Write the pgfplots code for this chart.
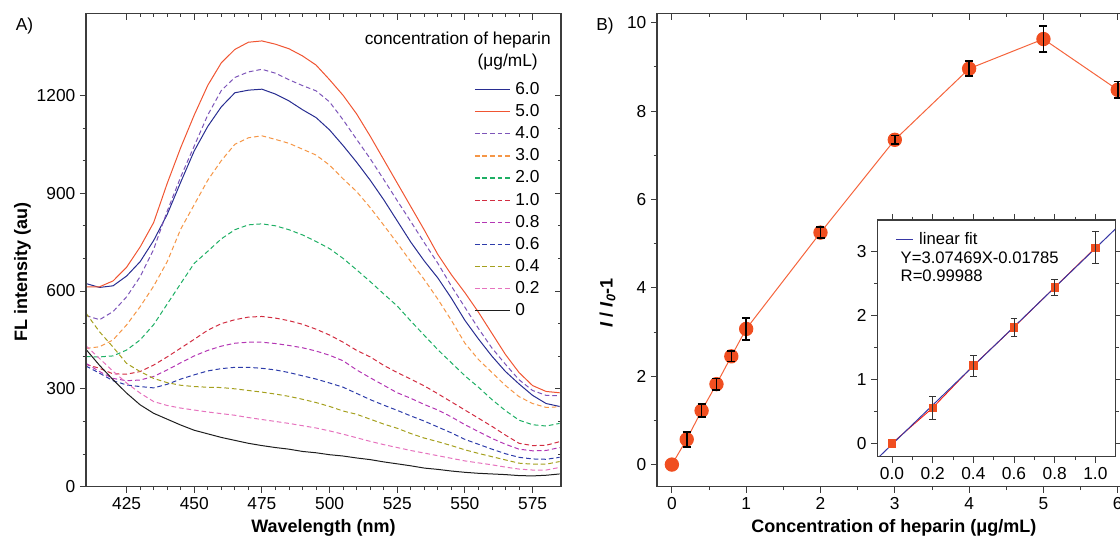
\documentclass[border=0pt]{standalone}
\usepackage{fontspec}
\setmainfont{Liberation Sans}
\usepackage{pgfplots}
\pgfplotsset{compat=1.18}
\usepackage{pgfplotstable}

\definecolor{c60}{RGB}{40,45,145}
\definecolor{c50}{RGB}{240,85,50}
\definecolor{c40}{RGB}{125,85,185}
\definecolor{c30}{RGB}{245,150,70}
\definecolor{c20}{RGB}{30,175,100}
\definecolor{c10}{RGB}{210,45,65}
\definecolor{c08}{RGB}{180,55,180}
\definecolor{c06}{RGB}{45,60,170}
\definecolor{c04}{RGB}{165,160,30}
\definecolor{c02}{RGB}{230,115,190}
\definecolor{c00}{RGB}{30,30,30}
\definecolor{dotred}{RGB}{240,78,32}
\definecolor{linered}{RGB}{245,100,60}
\definecolor{fitblue}{RGB}{55,55,165}
\definecolor{axisgray}{RGB}{60,60,60}

% emission spectra, one column per heparin concentration (ug/mL)
\pgfplotstableread{
wl  c60  c50  c40  c30  c20  c10  c08  c06  c04  c02  c00
410 623  613  525  424  399  375  378  370  532  432  421
415 611  613  512  429  398  363  353  348  475  393  372
420 616  631  537  450  401  346  332  325  428  354  328
425 646  673  582  496  419  345  325  312  378  318  287
430 690  735  644  552  450  353  327  307  353  287  251
435 755  810  728  615  497  373  338  303  332  261  225
440 835  930  845  690  560  398  358  314  319  249  207
445 934  1040 950  790  623  425  380  330  311  241  189
450 1030 1140 1045 865  685  452  401  343  307  235  173
455 1105 1231 1140 940  722  480  418  355  305  229  162
460 1165 1300 1215 1000 760  500  431  362  304  224  151
465 1208 1341 1255 1050 788  512  440  366  300  219  142
470 1216 1363 1272 1070 803  520  443  366  295  212  133
475 1219 1367 1280 1076 806  522  443  363  290  206  126
480 1204 1357 1268 1065 800  517  439  358  284  200  120
485 1183 1343 1248 1053 788  509  433  350  277  194  115
490 1156 1321 1230 1035 772  498  426  340  268  187  108
495 1132 1293 1214 1017 752  483  416  330  258  180  104
500 1094 1248 1180 986  730  465  403  318  246  171  98
505 1046 1200 1125 944  700  443  386  305  232  161  94
510 995  1143 1065 905  665  418  358  286  222  150  88
515 940  1075 1006 856  629  398  334  267  207  139  83
520 880  1003 942  802  591  372  311  250  192  129  76
525 815  931  877  747  554  350  288  234  179  120  70
530 750  859  813  690  508  330  271  217  163  111  64
535 692  787  748  635  464  309  252  201  149  103  57
540 640  712  685  575  420  285  235  183  138  95   53
545 578  650  615  510  380  260  214  165  126  87   48
550 510  595  550  440  340  235  190  145  113  79   44
555 453  535  485  390  305  210  169  130  102  73   41
560 400  470  425  350  267  185  148  115  92   67   39
565 353  405  375  310  233  158  130  101  82   60   37
570 315  350  328  276  204  133  115  90   72   54   34
575 280  310  295  255  190  126  110  85   69   51   33
580 255  292  280  243  186  127  111  84   69   51   35
585 246  288  279  245  194  138  120  90   77   59   39
}\spectra

\pgfplotstableread{
x   y     e
0   0     0
0.2 0.57  0.17
0.4 1.22  0.15
0.6 1.82  0.13
0.8 2.45  0.12
1.0 3.07  0.25
2   5.25  0.12
3   7.35  0.10
4   8.96  0.17
5   9.63  0.29
6   8.48  0.19
}\ratio

\pgfplotstableread{
x   y     e
0   0     0
0.2 0.555 0.175
0.4 1.22  0.165
0.6 1.82  0.14
0.8 2.445 0.125
1.0 3.065 0.25
}\lowrange

\pgfplotsset{
  frame/.style={
    scale only axis,
    axis line style={axisgray, line width=0.8pt},
    every tick/.style={axisgray, line width=0.7pt},
    major tick length=4.5pt,
    minor tick length=2.5pt,
    tick label style={font=\fontsize{13}{15}\selectfont},
    /pgf/number format/assume math mode=true,
    /pgf/number format/1000 sep={},
  },
  outer ticks/.style={frame, tick align=outside, xtick pos=left, ytick pos=left},
  inner ticks/.style={frame, tick align=inside, xtick pos=right, ytick pos=right,
    xticklabels={}, yticklabels={}},
  spec/.style={width=356.25pt, height=354.6pt, xmin=410, xmax=585.5, ymin=0, ymax=1450,
    xtick={425,450,...,575}, minor x tick num=4, ytick={0,300,...,1200}, minor y tick num=2},
  ratiobox/.style={width=356.7pt, height=354.6pt, xmin=-0.2, xmax=6.2, ymin=-0.5, ymax=10.2,
    xtick={0,...,6}, minor x tick num=1, ytick={0,2,...,10}, minor y tick num=1},
  insetbox/.style={width=178.8pt, height=177.5pt, xmin=-0.072, xmax=1.1, ymin=-0.21, ymax=3.5,
    xtick={0,0.2,0.4,0.6,0.8,1}, minor x tick num=1, ytick={0,1,2,3}, minor y tick num=1},
  solidc/.style={line width=0.75pt},
  dashc/.style={line width=0.75pt, dash pattern=on 3.5pt off 2.2pt},
}

\begin{document}
\begin{tikzpicture}

% ---- A) spectra ----
\begin{axis}[outer ticks, spec, at={(64.5pt,43pt)}, anchor=south west,
  xlabel={\textbf{Wavelength (nm)}},
  ylabel={\textbf{FL intensity (au)}},
  label style={font=\fontsize{13.5}{16}\selectfont},
  xlabel style={at={(rel axis cs:0.5,-0.087)}, anchor=center},
  ylabel style={at={(rel axis cs:-0.134,0.454)}, anchor=center, rotate=0},
  legend style={at={(0.958,0.864)}, anchor=north east, draw=none, fill=none,
    inner sep=0pt, font=\fontsize{13}{15}\selectfont,
    nodes={inner sep=1pt, text height=11pt, text depth=3.6pt}},
  legend cell align=left,
  legend image code/.code={\draw[#1, line width=0.9pt] (0pt,0pt) -- (26pt,0pt); \path (29pt,0pt);},
]
\addplot[c60, solidc] table[x=wl, y=c60]{\spectra}; \addlegendentry{6.0}
\addplot[c50, solidc] table[x=wl, y=c50]{\spectra}; \addlegendentry{5.0}
\addplot[c40, dashc]  table[x=wl, y=c40]{\spectra}; \addlegendentry{4.0}
\addplot[c30, dashc]  table[x=wl, y=c30]{\spectra}; \addlegendentry{3.0}
\addplot[c20, dashc]  table[x=wl, y=c20]{\spectra}; \addlegendentry{2.0}
\addplot[c10, dashc]  table[x=wl, y=c10]{\spectra}; \addlegendentry{1.0}
\addplot[c08, dashc]  table[x=wl, y=c08]{\spectra}; \addlegendentry{0.8}
\addplot[c06, dashc]  table[x=wl, y=c06]{\spectra}; \addlegendentry{0.6}
\addplot[c04, dashc]  table[x=wl, y=c04]{\spectra}; \addlegendentry{0.4}
\addplot[c02, dashc]  table[x=wl, y=c02]{\spectra}; \addlegendentry{0.2}
\addplot[c00, solidc] table[x=wl, y=c00]{\spectra}; \addlegendentry{0}
\end{axis}
\begin{axis}[inner ticks, spec, at={(64.5pt,43pt)}, anchor=south west]
\end{axis}

% ---- B) I/I0-1 vs concentration ----
\begin{axis}[outer ticks, ratiobox, at={(492.75pt,43pt)}, anchor=south west,
  xlabel={\textbf{Concentration of heparin (μg/mL)}},
  ylabel={\textbf{\textit{I} / \textit{I}\textsubscript{\textit{0}}-1}},
  label style={font=\fontsize{13.5}{16}\selectfont},
  xlabel style={at={(rel axis cs:0.498,-0.087)}, anchor=center},
  ylabel style={at={(rel axis cs:-0.104,0.389)}, anchor=center},
]
\addplot[linered, line width=0.75pt, mark=*, mark size=5pt,
  mark options={fill=dotred, draw=dotred}] table[x=x, y=y]{\ratio};
\end{axis}
% overlay axis: top/right ticks and the error bars above the dots
\begin{axis}[inner ticks, ratiobox, at={(492.75pt,43pt)}, anchor=south west]
\addplot[draw=none, mark=none, skip coords between index={0}{1},
  error bars/.cd, y dir=both, y explicit,
  error bar style={draw=black, line width=1.2pt},
  error mark options={rotate=90, draw=black, mark size=3pt, line width=1.2pt}]
  table[x=x, y=y, y error=e]{\ratio};
\end{axis}

% ---- inset: linear range ----
\begin{axis}[outer ticks, insetbox, at={(658pt,65.5pt)}, anchor=south west,
  axis background/.style={fill=white},
  xticklabel style={/pgf/number format/.cd, fixed, fixed zerofill, precision=1},
  legend style={at={(0.075,0.918)}, anchor=west, draw=none, fill=none,
    inner sep=0pt, font=\fontsize{12.5}{14}\selectfont},
  legend image code/.code={\draw[#1] (0pt,0pt) -- (13pt,0pt); \path (15pt,0pt);},
]
\addplot[red!85!orange, line width=0.6pt, mark=square*, mark size=2.8pt,
  mark options={fill=dotred, draw=dotred}, forget plot] table[x=x, y=y]{\lowrange};
\addplot[fitblue, line width=0.75pt] coordinates {(-0.1,-0.325) (1.15,3.518)};
\addlegendentry{linear fit}
\end{axis}
\begin{axis}[inner ticks, insetbox, at={(658pt,65.5pt)}, anchor=south west,
  xtick pos=right, ytick pos=right, tick align=outside]
\addplot[draw=none, mark=none, skip coords between index={0}{1},
  error bars/.cd, y dir=both, y explicit,
  error bar style={draw=black!80, line width=0.6pt},
  error mark options={rotate=90, draw=black!80, mark size=2.5pt, line width=0.6pt}]
  table[x=x, y=y, y error=e]{\lowrange};
\end{axis}

\node[anchor=base west, font=\fontsize{12.5}{14}\selectfont] at (672pt,210.5pt) {Y=3.07469X-0.01785};
\node[anchor=base west, font=\fontsize{12.5}{14}\selectfont] at (672pt,197.25pt) {R=0.99988};

\node[anchor=base east, font=\fontsize{13}{15}\selectfont, inner sep=0pt] at (413.25pt,374.25pt) {concentration of heparin};
\node[anchor=base east, font=\fontsize{13}{15}\selectfont, inner sep=0pt] at (403.5pt,357.75pt) {(μg/mL)};

\node[font=\fontsize{13}{15}\selectfont] at (18.4pt,388.5pt) {A)};
\node[font=\fontsize{13}{15}\selectfont] at (453.75pt,388.5pt) {B)};

\pgfresetboundingbox
\path[use as bounding box] (0,0) rectangle (840pt,408pt);
\end{tikzpicture}
\end{document}
